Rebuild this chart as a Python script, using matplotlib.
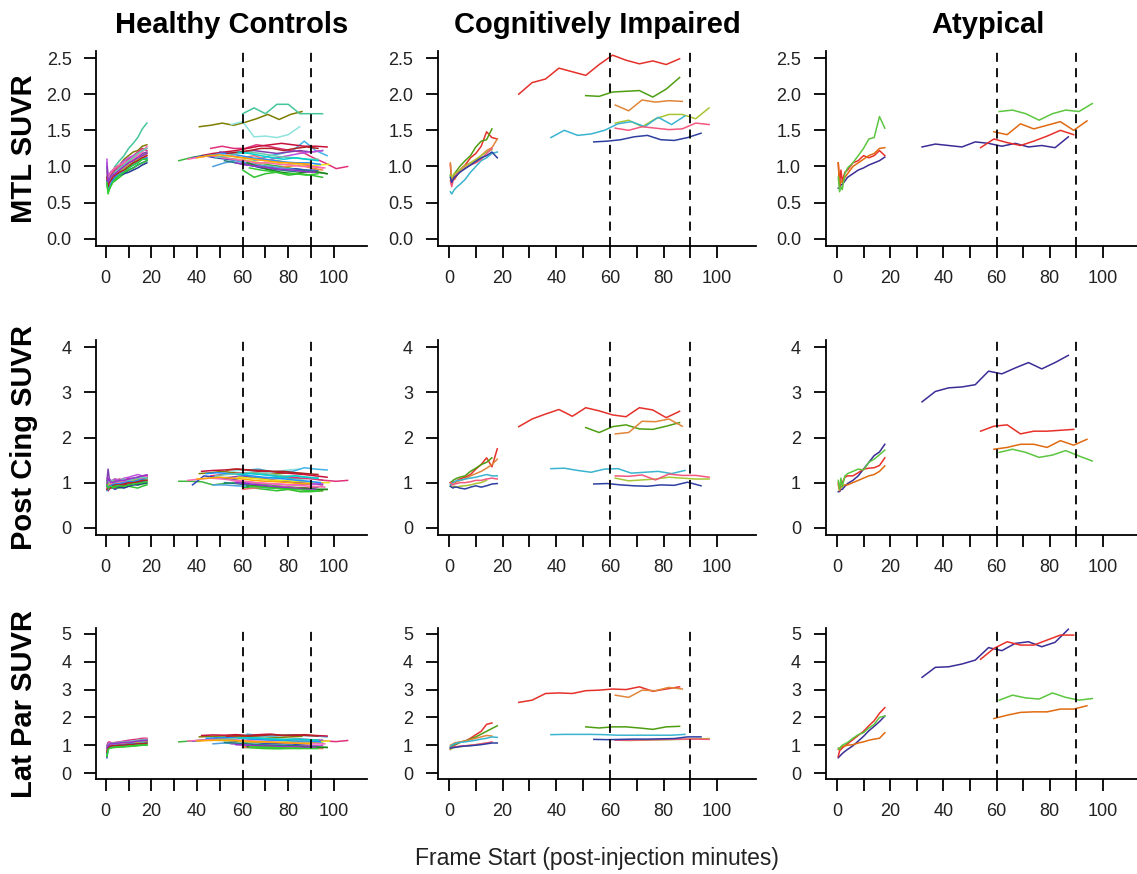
import numpy as np
import matplotlib
matplotlib.use("Agg")
import matplotlib.pyplot as plt

plt.rcParams['font.family'] = ['Liberation Sans', 'DejaVu Sans']

# frame start times (minutes) of the early dynamic scan, shared by everyone
t_early = [0.5, 1, 1.5, 2, 3, 4, 6, 8, 10, 12, 14, 16, 18]
frame_step = 5  # late scan frames are 5 min long

col_titles = ["Healthy Controls", "Cognitively Impaired", "Atypical"]
row_labels = ["MTL SUVR", "Post Cing SUVR", "Lat Par SUVR"]
row_ylims = [(-0.1, 2.6), (-0.16, 4.16), (-0.2, 5.2)]
row_yticks = [[0, 0.5, 1.0, 1.5, 2.0, 2.5], [0, 1, 2, 3, 4], [0, 1, 2, 3, 4, 5]]
row_yticklabels = [["0.0", "0.5", "1.0", "1.5", "2.0", "2.5"],
                   ["0", "1", "2", "3", "4"],
                   ["0", "1", "2", "3", "4", "5"]]

# ---------------- healthy controls ----------------
hc_early_colors = ['#45C59A', '#3DB83D', '#7D7D00', '#3048C0', '#8040B0', '#E0307A', '#C8103C',
                   '#42B4E6', '#F08A30', '#C050E0', '#30C030', '#F070A0', '#283890', '#9ACD32',
                   '#FF69B4', '#1E90FF', '#66CDAA', '#B22222', '#9932CC', '#32CD32']
hc_mtl_early = [
    [0.90, 0.75, 0.80, 0.85, 0.92, 1.00, 1.08, 1.15, 1.25, 1.32, 1.40, 1.52, 1.60],
    [0.85, 0.65, 0.70, 0.72, 0.78, 0.82, 0.88, 0.95, 1.00, 1.05, 1.08, 1.12, 1.10],
    [0.95, 0.78, 0.85, 0.88, 0.92, 0.98, 1.02, 1.10, 1.15, 1.20, 1.22, 1.28, 1.30],
    [0.80, 0.72, 0.75, 0.80, 0.85, 0.88, 0.90, 0.92, 0.95, 0.98, 1.02, 1.05, 1.08],
    [1.05, 0.80, 0.85, 0.88, 0.90, 0.95, 0.98, 1.02, 1.05, 1.10, 1.12, 1.18, 1.20],
    [0.90, 0.85, 0.88, 0.90, 0.92, 0.95, 1.00, 1.05, 1.10, 1.15, 1.20, 1.25, 1.22],
    [0.88, 0.78, 0.82, 0.85, 0.88, 0.92, 0.95, 1.00, 1.05, 1.08, 1.12, 1.15, 1.18],
    [0.82, 0.70, 0.75, 0.78, 0.82, 0.85, 0.90, 0.95, 1.00, 1.02, 1.08, 1.10, 1.12],
    [0.90, 0.80, 0.82, 0.85, 0.88, 0.90, 0.95, 0.98, 1.02, 1.05, 1.08, 1.12, 1.15],
    [1.10, 0.82, 0.88, 0.92, 0.95, 0.98, 1.02, 1.08, 1.12, 1.15, 1.18, 1.22, 1.25],
    [0.75, 0.65, 0.68, 0.72, 0.78, 0.80, 0.85, 0.90, 0.95, 0.98, 1.02, 1.05, 1.08],
    [0.95, 0.85, 0.88, 0.90, 0.95, 0.98, 1.02, 1.05, 1.08, 1.12, 1.15, 1.10, 1.12],
    [0.85, 0.75, 0.78, 0.80, 0.82, 0.85, 0.88, 0.90, 0.92, 0.95, 0.98, 1.02, 1.05],
    [0.88, 0.72, 0.78, 0.82, 0.85, 0.88, 0.92, 0.98, 1.02, 1.06, 1.10, 1.15, 1.18],
    [0.92, 0.70, 0.75, 0.80, 0.85, 0.90, 0.95, 1.00, 1.05, 1.10, 1.15, 1.20, 1.28],
    [0.80, 0.68, 0.72, 0.75, 0.80, 0.85, 0.88, 0.92, 0.98, 1.02, 1.05, 1.10, 1.12],
    [0.98, 0.75, 0.80, 0.85, 0.88, 0.92, 0.98, 1.02, 1.08, 1.12, 1.18, 1.22, 1.25],
    [0.85, 0.72, 0.78, 0.80, 0.85, 0.88, 0.92, 0.95, 1.00, 1.05, 1.08, 1.12, 1.15],
    [1.00, 0.78, 0.82, 0.85, 0.88, 0.90, 0.95, 1.00, 1.05, 1.08, 1.12, 1.15, 1.18],
    [0.78, 0.62, 0.68, 0.72, 0.78, 0.82, 0.88, 0.92, 0.98, 1.02, 1.05, 1.10, 1.10],
]
hc_pcc_early = [
    [1.00, 0.95, 0.98, 1.00, 1.02, 1.00, 1.02, 1.05, 1.08, 1.10, 1.12, 1.15, 1.12],
    [0.95, 0.90, 0.88, 0.90, 0.92, 0.90, 0.92, 0.95, 0.95, 0.98, 0.95, 0.97, 0.98],
    [1.05, 1.00, 1.02, 1.00, 1.05, 1.08, 1.05, 1.02, 1.05, 1.08, 1.10, 1.12, 1.15],
    [0.90, 0.88, 0.92, 0.90, 0.88, 0.85, 0.90, 0.92, 0.95, 0.97, 1.00, 1.02, 1.05],
    [1.05, 1.30, 1.10, 1.05, 1.00, 0.98, 1.00, 1.02, 1.08, 1.05, 1.10, 1.12, 1.15],
    [0.95, 1.00, 0.98, 1.00, 1.02, 1.05, 1.08, 1.05, 1.10, 1.08, 1.12, 1.10, 1.15],
    [0.85, 0.82, 0.85, 0.88, 0.90, 0.88, 0.92, 0.95, 0.98, 1.00, 1.02, 1.05, 1.08],
    [0.82, 0.85, 0.88, 0.90, 0.92, 0.90, 0.95, 0.98, 1.00, 1.02, 1.05, 1.08, 1.10],
    [0.95, 0.92, 0.95, 0.95, 0.98, 1.00, 1.00, 1.02, 1.00, 1.05, 1.05, 1.08, 1.10],
    [1.10, 1.05, 1.02, 1.05, 1.05, 1.08, 1.05, 1.10, 1.12, 1.15, 1.18, 1.15, 1.17],
    [1.05, 0.92, 0.95, 0.90, 0.88, 0.90, 0.88, 0.90, 0.92, 0.90, 0.88, 0.92, 0.95],
    [0.90, 0.95, 1.00, 0.98, 1.00, 1.02, 1.00, 1.02, 1.05, 1.05, 1.08, 1.10, 1.12],
    [0.92, 0.88, 0.90, 0.92, 0.95, 0.92, 0.90, 0.88, 0.92, 0.95, 0.95, 0.98, 1.00],
    [1.00, 0.95, 0.97, 0.98, 1.00, 0.98, 1.00, 1.02, 1.02, 1.05, 1.08, 1.05, 1.08],
    [0.88, 0.92, 0.95, 0.97, 1.00, 1.02, 1.00, 1.02, 1.05, 1.08, 1.10, 1.12, 1.13],
    [0.92, 0.90, 0.92, 0.93, 0.95, 0.97, 0.98, 1.00, 1.02, 1.02, 1.05, 1.07, 1.10],
    [1.02, 1.05, 1.00, 1.02, 1.05, 1.02, 1.05, 1.08, 1.05, 1.08, 1.10, 1.12, 1.10],
    [0.85, 0.88, 0.90, 0.88, 0.92, 0.95, 0.95, 0.97, 1.00, 1.00, 1.02, 1.05, 1.05],
    [0.98, 1.10, 1.05, 1.02, 1.00, 1.02, 1.05, 1.05, 1.08, 1.10, 1.12, 1.15, 1.17],
    [0.95, 0.88, 0.90, 0.92, 0.90, 0.92, 0.93, 0.92, 0.95, 0.97, 0.98, 1.00, 1.02],
]
hc_lpar_early = [
    [0.70, 0.95, 1.00, 1.00, 1.02, 1.02, 1.05, 1.08, 1.10, 1.12, 1.15, 1.18, 1.20],
    [0.65, 0.85, 0.90, 0.92, 0.92, 0.93, 0.95, 0.95, 0.97, 0.98, 1.00, 1.00, 1.02],
    [0.90, 1.00, 1.02, 1.02, 1.03, 1.05, 1.05, 1.08, 1.10, 1.12, 1.15, 1.18, 1.20],
    [0.55, 0.90, 1.00, 1.02, 1.00, 1.02, 1.03, 1.05, 1.05, 1.07, 1.08, 1.10, 1.12],
    [0.90, 1.05, 1.05, 1.02, 1.00, 1.00, 1.02, 1.03, 1.05, 1.08, 1.10, 1.12, 1.15],
    [1.00, 1.10, 1.12, 1.10, 1.08, 1.10, 1.12, 1.15, 1.18, 1.20, 1.22, 1.25, 1.25],
    [0.85, 0.95, 0.98, 0.98, 1.00, 1.00, 1.02, 1.03, 1.05, 1.08, 1.10, 1.12, 1.15],
    [0.80, 0.95, 1.00, 1.00, 1.02, 1.03, 1.05, 1.05, 1.08, 1.10, 1.12, 1.12, 1.15],
    [0.90, 0.98, 1.00, 1.00, 1.00, 1.02, 1.02, 1.05, 1.05, 1.08, 1.08, 1.10, 1.12],
    [0.95, 1.05, 1.08, 1.08, 1.05, 1.08, 1.10, 1.12, 1.15, 1.15, 1.18, 1.20, 1.22],
    [0.65, 0.85, 0.90, 0.90, 0.92, 0.92, 0.93, 0.95, 0.95, 0.97, 0.98, 1.00, 1.00],
    [0.85, 1.00, 1.02, 1.05, 1.05, 1.07, 1.08, 1.10, 1.12, 1.15, 1.18, 1.20, 1.22],
    [0.75, 0.95, 0.98, 0.98, 1.00, 1.00, 1.00, 1.02, 1.03, 1.05, 1.05, 1.08, 1.10],
    [0.80, 0.92, 0.95, 0.97, 0.98, 1.00, 1.00, 1.02, 1.02, 1.05, 1.07, 1.08, 1.10],
    [0.80, 0.98, 1.02, 1.03, 1.05, 1.05, 1.07, 1.10, 1.12, 1.15, 1.17, 1.20, 1.22],
    [0.70, 0.90, 0.95, 0.97, 0.98, 1.00, 1.00, 1.02, 1.03, 1.05, 1.05, 1.07, 1.08],
    [0.95, 1.02, 1.05, 1.05, 1.07, 1.08, 1.10, 1.12, 1.12, 1.15, 1.18, 1.20, 1.20],
    [0.75, 0.92, 0.95, 0.97, 0.98, 0.98, 1.00, 1.00, 1.02, 1.03, 1.05, 1.05, 1.07],
    [0.90, 1.00, 1.03, 1.05, 1.05, 1.07, 1.08, 1.10, 1.10, 1.12, 1.15, 1.17, 1.18],
    [0.60, 0.85, 0.88, 0.90, 0.92, 0.93, 0.95, 0.95, 0.97, 0.98, 1.00, 1.00, 1.02],
]

hc_late_colors = ['#3DB83D', '#7D7D00', '#45C59A', '#8FE3DC', '#42B4E6', '#E0307A', '#C8103C',
                  '#8040B0', '#3048C0', '#F08A30', '#E6E61A', '#30C030', '#50A0E0', '#C050E0',
                  '#208080', '#F07070', '#208020',
                  '#FF69B4', '#1E90FF', '#66CDAA', '#B22222', '#9932CC', '#32CD32', '#FFA500',
                  '#00CED1']
hc_late_start = [32, 41, 60, 55, 62, 46, 42, 50, 38, 60, 58, 60, 47, 55, 52, 60, 62,
                 36, 44, 48, 53, 57, 63, 40, 58]
hc_mtl_late = [
    [1.08, 1.12, 1.15, 1.14, 1.12, 1.10, 1.08, 1.05, 1.02, 1.00, 0.97, 0.95, 0.92, 0.90],
    [1.55, 1.57, 1.60, 1.57, 1.61, 1.66, 1.72, 1.65, 1.72, 1.76],
    [1.73, 1.81, 1.73, 1.86, 1.86, 1.73, 1.73, 1.73],
    [1.58, 1.62, 1.41, 1.42, 1.40, 1.44, 1.55],
    [1.05, 1.10, 1.15, 1.18, 1.22, 1.35, 1.22, 1.15],
    [1.25, 1.28, 1.25, 1.25, 1.30, 1.28, 1.25, 1.22, 1.20, 1.12, 1.05, 0.97, 1.00],
    [1.15, 1.18, 1.20, 1.22, 1.25, 1.28, 1.30, 1.32, 1.30, 1.28, 1.28, 1.27],
    [1.20, 1.18, 1.20, 1.22, 1.20, 1.18, 1.20, 1.22, 1.20, 1.22],
    [1.12, 1.15, 1.12, 1.10, 1.08, 1.02, 0.98, 0.95, 0.96, 0.97, 0.95, 0.95],
    [1.02, 1.05, 1.00, 0.98, 1.00, 1.02, 0.98, 0.95],
    [1.10, 1.08, 1.05, 1.05, 1.03, 1.02, 1.00, 1.02, 1.03],
    [0.95, 0.85, 0.90, 0.92, 0.88, 0.90, 0.88, 0.85],
    [1.00, 1.05, 1.08, 1.05, 1.02, 1.00, 0.98, 0.96],
    [1.15, 1.12, 1.10, 1.08, 1.12, 1.15, 1.18, 1.20, 1.22],
    [1.08, 1.05, 1.02, 1.00, 0.98, 0.95, 0.93, 0.95, 0.92],
    [1.12, 1.15, 1.10, 1.08, 1.05, 1.05, 1.00, 0.98],
    [1.05, 1.00, 0.95, 0.92, 0.90, 0.92, 0.93, 0.90],
    [1.10, 1.13, 1.15, 1.12, 1.10, 1.08, 1.05, 1.05, 1.03, 1.02, 1.00, 1.00, 0.98],
    [1.15, 1.17, 1.18, 1.15, 1.12, 1.10, 1.08, 1.06, 1.05, 1.05, 1.03],
    [1.12, 1.15, 1.18, 1.20, 1.18, 1.15, 1.13, 1.12, 1.10, 1.10],
    [1.18, 1.20, 1.22, 1.25, 1.25, 1.22, 1.25, 1.27, 1.25],
    [1.05, 1.02, 1.00, 0.98, 0.96, 0.95, 0.93, 0.92],
    [0.98, 0.95, 0.93, 0.90, 0.90, 0.88, 0.90],
    [1.12, 1.15, 1.16, 1.14, 1.12, 1.10, 1.08, 1.06, 1.05, 1.04, 1.03],
    [1.20, 1.18, 1.15, 1.12, 1.10, 1.12, 1.10, 1.08],
]
hc_pcc_late = [
    [1.03, 1.03, 1.02, 0.95, 0.98, 1.00, 1.02, 0.98, 0.95, 0.92, 0.90, 0.88, 0.85, 0.85],
    [1.20, 1.22, 1.25, 1.22, 1.20, 1.22, 1.18, 1.20, 1.22, 1.20],
    [1.15, 1.12, 1.10, 1.12, 1.10, 1.08, 1.10, 1.05],
    [1.25, 1.28, 1.25, 1.22, 1.25, 1.28, 1.30],
    [1.28, 1.30, 1.25, 1.24, 1.25, 1.33, 1.30, 1.28],
    [1.15, 1.18, 1.20, 1.22, 1.20, 1.18, 1.15, 1.12, 1.10, 1.08, 1.05, 1.03, 1.05],
    [1.25, 1.27, 1.28, 1.30, 1.28, 1.25, 1.25, 1.22, 1.20, 1.18, 1.15, 1.12],
    [1.10, 1.12, 1.15, 1.10, 1.08, 1.05, 1.02, 1.00, 0.98, 0.95],
    [0.95, 1.15, 1.12, 1.10, 1.05, 0.95, 0.93, 0.90, 0.90, 0.88, 0.88, 0.90],
    [0.88, 0.92, 0.90, 0.88, 0.85, 0.85, 0.83, 0.82],
    [1.12, 1.10, 1.08, 1.05, 1.05, 1.03, 1.02, 1.00, 1.00],
    [0.90, 0.88, 0.85, 0.82, 0.85, 0.80, 0.80, 0.82],
    [0.95, 0.95, 0.93, 0.92, 0.90, 0.88, 0.90, 0.88],
    [1.05, 1.02, 1.00, 0.98, 0.97, 0.95, 0.95, 0.97, 0.98],
    [1.00, 0.98, 0.95, 0.92, 0.90, 0.88, 0.87, 0.88, 0.85],
    [0.85, 0.88, 0.90, 0.92, 0.90, 0.88, 0.90, 0.92],
    [0.92, 0.95, 0.90, 0.88, 0.87, 0.88, 0.85, 0.85],
    [1.05, 1.08, 1.10, 1.08, 1.05, 1.03, 1.00, 0.98, 0.97, 0.95, 0.93, 0.92, 0.90],
    [1.20, 1.22, 1.20, 1.18, 1.15, 1.12, 1.10, 1.08, 1.05, 1.03, 1.00],
    [1.15, 1.18, 1.20, 1.22, 1.20, 1.18, 1.15, 1.15, 1.12, 1.10],
    [1.28, 1.30, 1.28, 1.27, 1.25, 1.25, 1.22, 1.20, 1.18],
    [1.00, 0.98, 0.95, 0.92, 0.90, 0.88, 0.85, 0.85],
    [0.92, 0.90, 0.88, 0.86, 0.85, 0.83, 0.82],
    [1.08, 1.10, 1.12, 1.10, 1.08, 1.05, 1.03, 1.02, 1.00, 0.98, 0.97],
    [1.18, 1.20, 1.18, 1.15, 1.12, 1.15, 1.12, 1.10],
]
hc_lpar_late = [
    [1.12, 1.15, 1.18, 1.18, 1.17, 1.15, 1.12, 1.10, 1.05, 1.00, 0.98, 0.95, 0.95, 0.92],
    [1.30, 1.32, 1.33, 1.32, 1.30, 1.32, 1.30, 1.28, 1.30, 1.32],
    [1.10, 1.12, 1.10, 1.08, 1.10, 1.12, 1.10, 1.08],
    [1.35, 1.38, 1.35, 1.33, 1.35, 1.38, 1.36],
    [1.40, 1.35, 1.33, 1.35, 1.37, 1.35, 1.33, 1.30],
    [1.22, 1.25, 1.25, 1.28, 1.25, 1.22, 1.20, 1.18, 1.15, 1.12, 1.15, 1.13, 1.17],
    [1.35, 1.37, 1.36, 1.38, 1.35, 1.38, 1.40, 1.36, 1.35, 1.38, 1.35, 1.33],
    [1.20, 1.22, 1.25, 1.22, 1.20, 1.18, 1.20, 1.22, 1.20, 1.18],
    [1.15, 1.18, 1.20, 1.18, 1.15, 1.12, 1.08, 1.05, 1.05, 1.02, 1.00, 0.98],
    [0.95, 0.93, 0.92, 0.93, 0.90, 0.92, 0.90, 0.88],
    [1.15, 1.12, 1.12, 1.10, 1.12, 1.15, 1.12, 1.13, 1.15],
    [0.92, 0.90, 0.88, 0.87, 0.88, 0.88, 0.90, 0.90],
    [1.05, 1.08, 1.05, 1.05, 1.02, 1.02, 1.00, 1.00],
    [1.05, 1.02, 1.00, 1.00, 0.98, 0.98, 0.97, 0.98, 1.00],
    [1.10, 1.08, 1.05, 1.02, 1.00, 0.98, 0.97, 0.95, 0.95],
    [0.92, 0.95, 0.97, 0.95, 0.93, 0.95, 0.92, 0.90],
    [0.95, 0.97, 0.98, 0.95, 0.97, 0.95, 0.93, 0.92],
    [1.15, 1.18, 1.20, 1.20, 1.18, 1.17, 1.15, 1.12, 1.10, 1.08, 1.07, 1.05, 1.05],
    [1.25, 1.27, 1.28, 1.25, 1.22, 1.20, 1.18, 1.17, 1.15, 1.15, 1.13],
    [1.20, 1.22, 1.25, 1.27, 1.25, 1.23, 1.22, 1.20, 1.20, 1.18],
    [1.32, 1.35, 1.33, 1.35, 1.38, 1.35, 1.37, 1.35, 1.33],
    [1.02, 1.00, 0.98, 0.97, 0.95, 0.95, 0.93, 0.92],
    [0.95, 0.93, 0.92, 0.90, 0.90, 0.88, 0.88],
    [1.15, 1.17, 1.18, 1.17, 1.15, 1.13, 1.12, 1.10, 1.08, 1.07, 1.05],
    [1.25, 1.27, 1.25, 1.22, 1.20, 1.22, 1.20, 1.18],
]

# ---------------- cognitively impaired ----------------
# order: red, green, orange, yellow-green, cyan, pink, blue
ci_colors = ['#E4312A', '#4E9E12', '#E0853A', '#A8C533', '#3AB4CF', '#F2577D', '#2D3FA0']
ci_late_start = [26, 51, 62, 62, 38, 62, 54]
ci_mtl_early = [
    [1.03, 0.75, 0.85, 0.82, 0.88, 0.95, 1.02, 1.12, 1.18, 1.28, 1.48, 1.40, 1.38],
    [0.88, 0.78, 0.85, 0.90, 0.95, 1.00, 1.08, 1.15, 1.27, 1.35, 1.37, 1.52],
    [1.05, 0.80, 0.85, 0.86, 0.90, 0.95, 1.02, 1.05, 1.08, 1.15, 1.22, 1.26, 1.38],
    [0.88, 0.85, 0.88, 0.90, 0.92, 0.95, 1.00, 1.05, 1.10, 1.15, 1.20, 1.23],
    [0.65, 0.62, 0.65, 0.68, 0.72, 0.75, 0.82, 0.92, 1.00, 1.08, 1.12, 1.18, 1.20],
    [0.80, 0.72, 0.80, 0.85, 0.90, 0.92, 0.98, 1.02, 1.05, 1.10, 1.18, 1.25],
    [0.85, 0.78, 0.82, 0.85, 0.88, 0.92, 0.97, 1.02, 1.07, 1.12, 1.15, 1.20, 1.12],
]
ci_pcc_early = [
    [1.00, 0.95, 1.02, 1.00, 1.05, 1.08, 1.12, 1.18, 1.30, 1.40, 1.55, 1.35, 1.75],
    [1.00, 1.02, 1.05, 1.07, 1.10, 1.12, 1.15, 1.25, 1.32, 1.40, 1.45, 1.55],
    [1.00, 0.95, 1.00, 1.00, 1.02, 1.05, 1.08, 1.15, 1.20, 1.25, 1.32, 1.40, 1.52],
    [0.92, 0.90, 0.90, 0.92, 0.90, 0.92, 0.93, 0.95, 0.98, 1.00, 1.05],
    [0.95, 0.98, 1.00, 1.02, 1.05, 1.05, 1.08, 1.10, 1.12, 1.15, 1.18, 1.15, 1.15],
    [1.00, 0.98, 0.95, 0.97, 0.98, 1.00, 1.00, 1.02, 1.05, 1.05, 1.08, 1.10, 1.08],
    [0.92, 0.90, 0.88, 0.90, 0.90, 0.88, 0.86, 0.90, 0.93, 0.90, 0.93, 0.97, 0.98],
]
ci_lpar_early = [
    [0.85, 0.95, 0.98, 1.00, 1.05, 1.10, 1.15, 1.25, 1.38, 1.50, 1.75, 1.80],
    [0.90, 0.95, 1.00, 1.02, 1.05, 1.10, 1.15, 1.22, 1.30, 1.40, 1.50, 1.60, 1.70],
    [1.00, 1.02, 1.05, 1.08, 1.10, 1.12, 1.15, 1.20, 1.25, 1.30, 1.35, 1.33],
    [0.85, 0.88, 0.90, 0.92, 0.93, 0.95, 0.97, 1.00, 1.02, 1.05, 1.08],
    [0.95, 1.00, 1.02, 1.05, 1.08, 1.10, 1.12, 1.15, 1.18, 1.22, 1.25, 1.30, 1.28],
    [0.90, 0.92, 0.92, 0.95, 0.95, 0.97, 0.98, 1.00, 1.02, 1.05, 1.08, 1.12],
    [0.90, 0.90, 0.92, 0.92, 0.93, 0.95, 0.97, 0.98, 1.00, 1.02, 1.05, 1.08, 1.08],
]
ci_mtl_late = [
    [2.00, 2.16, 2.21, 2.36, 2.31, 2.26, 2.41, 2.54, 2.47, 2.42, 2.46, 2.41, 2.49],
    [1.98, 1.97, 2.03, 2.04, 2.05, 1.96, 2.07, 2.23],
    [1.85, 1.77, 1.92, 1.89, 1.91, 1.90],
    [1.60, 1.64, 1.55, 1.66, 1.72, 1.72, 1.66, 1.81],
    [1.40, 1.50, 1.43, 1.45, 1.50, 1.59, 1.62, 1.55, 1.68, 1.58, 1.70],
    [1.53, 1.50, 1.55, 1.53, 1.51, 1.52, 1.60, 1.58],
    [1.34, 1.35, 1.37, 1.41, 1.43, 1.37, 1.36, 1.40, 1.46],
]
ci_pcc_late = [
    [2.24, 2.41, 2.52, 2.62, 2.47, 2.66, 2.59, 2.50, 2.46, 2.66, 2.61, 2.44, 2.58],
    [2.22, 2.11, 2.24, 2.28, 2.19, 2.18, 2.25, 2.33],
    [2.08, 2.11, 2.36, 2.35, 2.41, 2.25],
    [1.10, 1.04, 1.06, 1.08, 1.12, 1.10, 1.08, 1.08],
    [1.31, 1.32, 1.27, 1.23, 1.30, 1.31, 1.21, 1.23, 1.25, 1.20, 1.27],
    [1.15, 1.14, 1.17, 1.06, 1.19, 1.16, 1.16, 1.12],
    [0.97, 0.98, 0.95, 0.93, 0.92, 0.95, 0.94, 1.01, 0.93],
]
ci_lpar_late = [
    [2.54, 2.62, 2.86, 2.88, 2.86, 2.96, 2.98, 3.02, 3.00, 3.10, 2.94, 3.02, 3.10],
    [1.66, 1.62, 1.66, 1.66, 1.62, 1.57, 1.66, 1.68],
    [2.80, 2.72, 2.98, 2.96, 3.08, 3.02],
    [1.18, 1.17, 1.18, 1.19, 1.20, 1.21, 1.23, 1.24],
    [1.38, 1.39, 1.39, 1.39, 1.38, 1.36, 1.36, 1.36, 1.36, 1.36, 1.39],
    [1.18, 1.18, 1.19, 1.20, 1.21, 1.22, 1.22, 1.21],
    [1.21, 1.20, 1.21, 1.22, 1.22, 1.23, 1.24, 1.30, 1.30],
]

# ---------------- atypical ----------------
# order: blue, red, orange, green
at_colors = ['#3A2D96', '#E8302A', '#E06A10', '#5CC640']
at_late_start = [32, 54, 59, 61]
at_mtl_early = [
    [0.70, 0.70, 0.75, 0.75, 0.80, 0.85, 0.90, 0.95, 0.98, 1.02, 1.05, 1.08, 1.13],
    [1.05, 0.75, 0.95, 0.80, 0.92, 0.95, 1.05, 1.08, 1.15, 1.12, 1.15, 1.22, 1.15],
    [1.05, 0.72, 0.80, 0.78, 0.85, 0.90, 1.00, 1.05, 1.10, 1.15, 1.18, 1.25, 1.26],
    [0.85, 0.65, 0.72, 0.68, 0.90, 0.98, 1.05, 1.15, 1.25, 1.38, 1.40, 1.69, 1.53],
]
at_pcc_early = [
    [0.80, 0.80, 0.85, 0.85, 0.92, 0.98, 1.05, 1.15, 1.30, 1.45, 1.60, 1.68, 1.85],
    [1.00, 0.85, 0.95, 1.00, 1.12, 1.15, 1.15, 1.22, 1.30, 1.32, 1.33, 1.38, 1.55],
    [0.95, 0.82, 0.90, 0.92, 0.95, 0.95, 1.00, 1.05, 1.10, 1.15, 1.18, 1.25, 1.37],
    [1.05, 0.85, 1.10, 0.90, 1.15, 1.20, 1.25, 1.30, 1.28, 1.45, 1.52, 1.62, 1.72],
]
at_lpar_early = [
    [0.55, 0.60, 0.65, 0.70, 0.78, 0.85, 0.98, 1.15, 1.32, 1.52, 1.68, 1.85, 2.05],
    [0.60, 0.80, 0.85, 0.90, 0.98, 1.05, 1.20, 1.35, 1.50, 1.70, 1.88, 2.15, 2.35],
    [0.85, 0.90, 0.92, 0.95, 0.98, 1.00, 1.02, 1.08, 1.12, 1.18, 1.22, 1.25, 1.45],
    [0.90, 0.85, 0.95, 1.00, 1.05, 1.10, 1.25, 1.38, 1.45, 1.62, 1.75, 2.00, 2.05],
]
at_mtl_late = [
    [1.27, 1.31, 1.29, 1.27, 1.34, 1.32, 1.28, 1.32, 1.27, 1.29, 1.26, 1.41],
    [1.26, 1.38, 1.33, 1.29, 1.35, 1.42, 1.50, 1.44],
    [1.48, 1.44, 1.59, 1.52, 1.57, 1.62, 1.50, 1.63],
    [1.76, 1.78, 1.73, 1.64, 1.73, 1.78, 1.76, 1.87],
]
at_pcc_late = [
    [2.79, 3.02, 3.10, 3.12, 3.17, 3.47, 3.41, 3.54, 3.66, 3.52, 3.66, 3.82],
    [2.14, 2.25, 2.28, 2.08, 2.14, 2.14, 2.16, 2.18],
    [1.74, 1.78, 1.85, 1.85, 1.78, 1.93, 1.83, 1.96],
    [1.67, 1.74, 1.67, 1.56, 1.61, 1.71, 1.59, 1.48],
]
at_lpar_late = [
    [3.44, 3.80, 3.82, 3.92, 4.06, 4.51, 4.40, 4.66, 4.72, 4.54, 4.70, 5.17],
    [4.09, 4.48, 4.72, 4.60, 4.60, 4.78, 4.96, 4.96],
    [1.96, 2.08, 2.18, 2.20, 2.20, 2.30, 2.30, 2.42],
    [2.62, 2.80, 2.70, 2.66, 2.88, 2.72, 2.62, 2.68],
]


def draw_group(ax, early, early_cols, late, late_start, late_cols):
    for vals, c in zip(early, early_cols):
        ax.plot(t_early[:len(vals)], vals, color=c, lw=1.1)
    for vals, st, c in zip(late, late_start, late_cols):
        t = st + frame_step * np.arange(len(vals))
        ax.plot(t, vals, color=c, lw=1.1)


W, H = 1137, 874
fig = plt.figure(figsize=(W / 100, H / 100), dpi=100)

col_px = [(96, 271), (437.5, 318.5), (825.5, 316)]
row_px = [(50.8, 246), (340, 535), (628.4, 778.6)]

groups = [
    (hc_early_colors, hc_late_start, hc_late_colors,
     [hc_mtl_early, hc_pcc_early, hc_lpar_early], [hc_mtl_late, hc_pcc_late, hc_lpar_late]),
    (ci_colors, ci_late_start, ci_colors,
     [ci_mtl_early, ci_pcc_early, ci_lpar_early], [ci_mtl_late, ci_pcc_late, ci_lpar_late]),
    (at_colors, at_late_start, at_colors,
     [at_mtl_early, at_pcc_early, at_lpar_early], [at_mtl_late, at_pcc_late, at_lpar_late]),
]

xt = list(range(0, 101, 10))
xtl = [str(v) if v % 20 == 0 else "" for v in xt]

for r in range(3):
    top, bot = row_px[r]
    for c in range(3):
        left, width = col_px[c]
        ax = fig.add_axes([left / W, 1 - bot / H, width / W, (bot - top) / H])
        ecols, lstart, lcols, early_rows, late_rows = groups[c]
        draw_group(ax, early_rows[r], ecols, late_rows[r], lstart, lcols)
        for xv in (60, 90):
            ax.axvline(xv, color='black', lw=1.3, linestyle=(0, (5, 3.5)))
        ax.set_xlim(-4.3, 114.5)
        ax.set_ylim(*row_ylims[r])
        ax.set_xticks(xt)
        ax.set_xticklabels(xtl)
        ax.set_yticks(row_yticks[r])
        ax.set_yticklabels(row_yticklabels[r])
        for s in ('top', 'right'):
            ax.spines[s].set_visible(False)
        for s in ('left', 'bottom'):
            ax.spines[s].set_linewidth(1.3)
        ax.tick_params(direction='out', length=8.6, width=1.3, labelsize=13, pad=9,
                       colors='black', labelcolor='#222222')

col_cx = [232, 597, 988]
for c in range(3):
    fig.text(col_cx[c] / W, 1 - 25 / H, col_titles[c], ha='center', va='center',
             fontsize=21, fontweight='bold')

for r in range(3):
    top, bot = row_px[r]
    fig.text(24 / W, 1 - (top + bot) / 2 / H, row_labels[r], ha='center', va='center',
             rotation=90, fontsize=21, fontweight='bold')

fig.text(597 / W, 1 - 858 / H, "Frame Start (post-injection minutes)", ha='center', va='center',
         fontsize=16.5, color='#222222')

fig.savefig("out.png", dpi=100)
